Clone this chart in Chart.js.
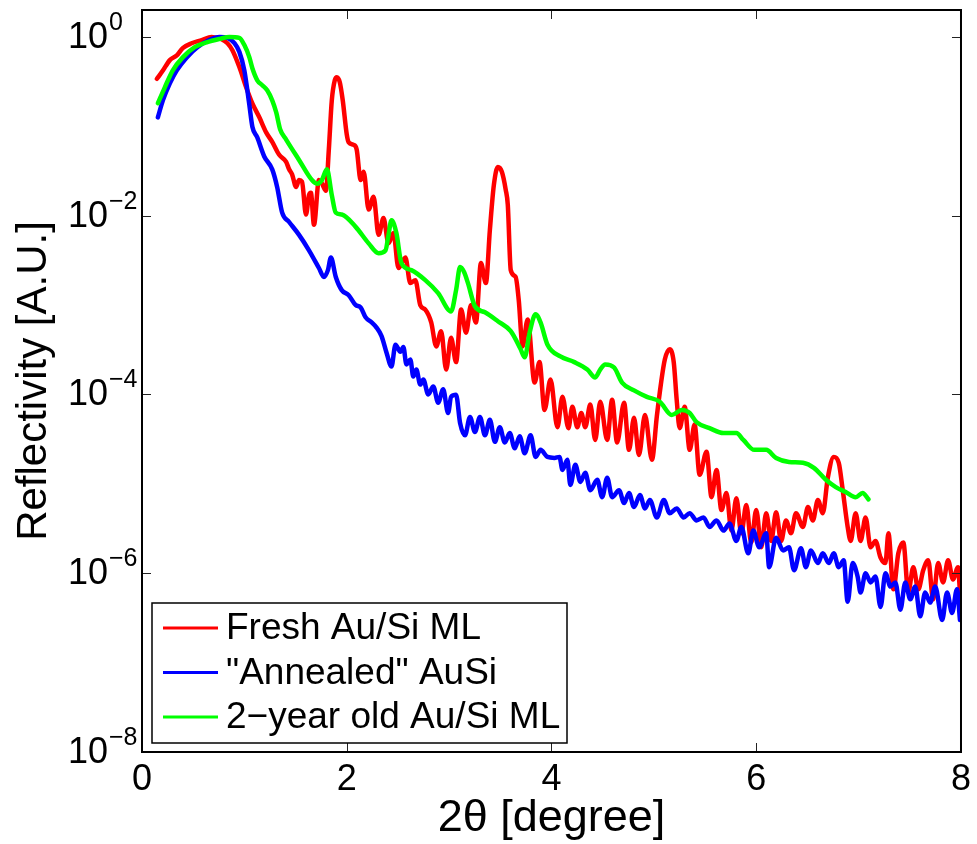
<!DOCTYPE html>
<html>
<head>
<meta charset="utf-8">
<title>Reflectivity</title>
<script src="https://cdn.jsdelivr.net/npm/chart.js@4.4.1/dist/chart.umd.min.js"></script>
<style>
    html, body { margin: 0; padding: 0; background: #ffffff; }
    #wrap { width: 977px; height: 844px; }
</style>
</head>
<body>
<div id="wrap">
    <canvas id="reflChart" width="977" height="844"></canvas>
</div>
<script>

const FONT = "'Liberation Sans', Arial, Helvetica, sans-serif";

/* ==========================
   DATA
========================== */

const seriesLabels = [
    "Fresh Au/Si ML",
    "\"Annealed\" AuSi",
    "2\u2212year old Au/Si ML"
];

const seriesColors = ["#ff0000", "#0000ff", "#00ff00"];

const xTicks = [0, 2, 4, 6, 8];
const yTicks = [1, 1e-2, 1e-4, 1e-6, 1e-8];
const yTickExponents = ["0", "\u22122", "\u22124", "\u22126", "\u22128"];

// 2theta [degree] / reflectivity for the fresh multilayer
const freshX = [
    0.146, 0.204, 0.272, 0.340, 0.398, 0.485, 0.583, 0.680, 0.777, 0.835,
    0.883, 0.951, 1.019, 1.078, 1.146, 1.214, 1.272, 1.340, 1.408, 1.437,
    1.466, 1.505, 1.534, 1.563, 1.602, 1.631, 1.650, 1.680, 1.728, 1.757,
    1.796, 1.825, 1.854, 1.883, 1.903, 1.932, 1.961, 2.000, 2.019, 2.068,
    2.097, 2.136, 2.165, 2.214, 2.262, 2.311, 2.359, 2.408, 2.456, 2.505,
    2.573, 2.621, 2.670, 2.718, 2.767, 2.825, 2.874, 2.922, 2.971, 3.019,
    3.068, 3.117, 3.165, 3.214, 3.262, 3.311, 3.359, 3.398, 3.437, 3.476,
    3.515, 3.553, 3.573, 3.602, 3.650, 3.680, 3.718, 3.767, 3.835, 3.883,
    3.932, 3.990, 4.058, 4.107, 4.165, 4.204, 4.252, 4.291, 4.330, 4.379,
    4.427, 4.476, 4.544, 4.592, 4.641, 4.709, 4.757, 4.806, 4.854, 4.913,
    4.981, 5.029, 5.068, 5.107, 5.155, 5.194, 5.223, 5.252, 5.301, 5.350,
    5.398, 5.447, 5.515, 5.563, 5.612, 5.660, 5.709, 5.757, 5.806, 5.854,
    5.903, 5.951, 6.000, 6.049, 6.097, 6.146, 6.194, 6.243, 6.291, 6.340,
    6.388, 6.456, 6.505, 6.553, 6.602, 6.650, 6.699, 6.757, 6.806, 6.845,
    6.893, 6.922, 6.971, 7.019, 7.068, 7.117, 7.165, 7.214, 7.262, 7.291,
    7.340, 7.388, 7.437, 7.485, 7.534, 7.583, 7.631, 7.680, 7.728, 7.777,
    7.825, 7.874, 7.922, 7.971, 7.990
];

const freshR = [
    0.34, 0.42, 0.55, 0.62, 0.75, 0.85, 0.92, 1.0, 0.94, 0.85,
    0.71, 0.46, 0.27, 0.18, 0.126, 0.085, 0.067, 0.048, 0.040, 0.033,
    0.029, 0.021, 0.025, 0.024, 0.0103, 0.017, 0.018, 0.0079, 0.025, 0.023,
    0.019, 0.055, 0.195, 0.327, 0.354, 0.311, 0.195, 0.081, 0.066, 0.062,
    0.055, 0.025, 0.031, 0.0117, 0.0163, 0.0061, 0.0094, 0.0049, 0.0064, 0.0026,
    0.0034, 0.00176, 0.0019, 0.0010, 8.9e-4, 6.4e-4, 3.45e-4, 5.1e-4, 1.9e-4, 4.3e-4,
    2.3e-4, 8.9e-4, 4.9e-4, 1.0e-3, 6.4e-4, 2.95e-3, 1.76e-3, 6.9e-3, 0.022, 0.035,
    0.031, 0.0195, 0.0133, 2.46e-3, 2.06e-3, 1.14e-3, 3.45e-4, 6.9e-4, 1.36e-4, 2.3e-4,
    6.7e-5, 1.47e-4, 4.3e-5, 9.4e-5, 4.2e-5, 7.3e-5, 4.3e-5, 6.2e-5, 4.3e-5, 7.7e-5,
    3.1e-5, 8.3e-5, 3.1e-5, 8.7e-5, 2.9e-5, 8.1e-5, 2.4e-5, 5.5e-5, 2.1e-5, 5.9e-5,
    1.86e-5, 5.7e-5, 1.29e-4, 2.46e-4, 3.2e-4, 2.3e-4, 8.7e-5, 4.2e-5, 7.3e-5, 2.4e-5,
    4.6e-5, 1.26e-5, 2.28e-5, 7.1e-6, 1.43e-5, 5.1e-6, 7.9e-6, 3.0e-6, 6.9e-6, 2.8e-6,
    5.8e-6, 2.2e-6, 5.1e-6, 1.95e-6, 4.7e-6, 2.3e-6, 4.8e-6, 2.3e-6, 3.9e-6, 2.8e-6,
    4.7e-6, 3.3e-6, 5.5e-6, 3.9e-6, 6.6e-6, 4.7e-6, 1.17e-5, 2.0e-5, 1.72e-5, 8.5e-6,
    3.3e-6, 2.3e-6, 4.7e-6, 2.3e-6, 4.2e-6, 1.95e-6, 2.3e-6, 1.5e-6, 1.3e-6, 2.8e-6,
    6.6e-7, 1.67e-6, 2.2e-6, 6.1e-7, 1.17e-6, 6.6e-7, 1.08e-6, 1.4e-6, 5.1e-7, 1.3e-6,
    7.9e-7, 1.4e-6, 8.5e-7, 1.17e-6, 6.1e-7
];

// annealed AuSi
const annealedX = [
    0.155, 0.204, 0.272, 0.340, 0.437, 0.544, 0.660, 0.757, 0.835, 0.903,
    0.951, 1.000, 1.029, 1.049, 1.078, 1.126, 1.194, 1.272, 1.320, 1.369,
    1.437, 1.534, 1.631, 1.728, 1.777, 1.816, 1.845, 1.893, 1.951, 2.019,
    2.087, 2.136, 2.184, 2.243, 2.291, 2.340, 2.388, 2.437, 2.476, 2.524,
    2.553, 2.583, 2.621, 2.650, 2.680, 2.718, 2.748, 2.796, 2.845, 2.893,
    2.942, 2.990, 3.019, 3.068, 3.107, 3.155, 3.204, 3.252, 3.301, 3.350,
    3.398, 3.447, 3.495, 3.544, 3.592, 3.641, 3.689, 3.738, 3.796, 3.845,
    3.893, 3.961, 4.029, 4.078, 4.107, 4.155, 4.184, 4.233, 4.282, 4.330,
    4.379, 4.447, 4.495, 4.544, 4.592, 4.660, 4.709, 4.757, 4.806, 4.864,
    4.913, 4.961, 5.029, 5.097, 5.155, 5.223, 5.291, 5.350, 5.417, 5.485,
    5.544, 5.612, 5.680, 5.738, 5.806, 5.854, 5.922, 5.971, 6.029, 6.097,
    6.126, 6.194, 6.262, 6.320, 6.369, 6.437, 6.485, 6.534, 6.602, 6.650,
    6.709, 6.757, 6.806, 6.854, 6.893, 6.942, 6.990, 7.019, 7.068, 7.117,
    7.165, 7.214, 7.262, 7.311, 7.359, 7.408, 7.456, 7.505, 7.553, 7.602,
    7.650, 7.699, 7.748, 7.816, 7.864, 7.913, 7.961, 7.990
];

const annealedR = [
    0.126, 0.195, 0.303, 0.423, 0.59, 0.77, 0.93, 1.0, 0.975, 0.85,
    0.68, 0.42, 0.253, 0.172, 0.099, 0.075, 0.046, 0.033, 0.021, 0.0108,
    0.0085, 0.0061, 0.0041, 0.0026, 0.00206, 0.00246, 0.0034, 0.00206, 0.00147, 0.00129,
    0.0010, 9.4e-4, 7.3e-4, 6.4e-4, 5.6e-4, 4.5e-4, 2.95e-4, 2.06e-4, 3.6e-4, 3.0e-4,
    3.4e-4, 2.17e-4, 2.46e-4, 1.59e-4, 1.9e-4, 1.29e-4, 1.47e-4, 1.0e-4, 1.23e-4, 8.1e-5,
    1.14e-4, 6.2e-5, 9.4e-5, 9.9e-5, 4.8e-5, 3.5e-5, 5.6e-5, 3.8e-5, 5.6e-5, 3.5e-5,
    5.2e-5, 2.95e-5, 4.3e-5, 2.9e-5, 3.7e-5, 2.5e-5, 3.4e-5, 2.2e-5, 3.5e-5, 2.0e-5,
    2.4e-5, 2.0e-5, 1.95e-5, 2.0e-5, 1.43e-5, 1.86e-5, 9.7e-6, 1.63e-5, 1.05e-5, 1.33e-5,
    8.5e-6, 1.11e-5, 7.1e-6, 1.17e-5, 7.1e-6, 8.5e-6, 6.1e-6, 7.9e-6, 5.5e-6, 7.5e-6,
    5.3e-6, 6.6e-6, 4.2e-6, 6.6e-6, 4.7e-6, 5.3e-6, 4.2e-6, 4.7e-6, 3.9e-6, 4.2e-6,
    3.3e-6, 3.9e-6, 3.0e-6, 3.6e-6, 2.3e-6, 3.3e-6, 1.67e-6, 3.0e-6, 1.95e-6, 2.8e-6,
    1.17e-6, 2.5e-6, 1.8e-6, 1.95e-6, 1.08e-6, 1.9e-6, 1.17e-6, 1.8e-6, 1.3e-6, 1.67e-6,
    1.3e-6, 1.67e-6, 1.17e-6, 1.4e-6, 4.8e-7, 1.3e-6, 9.2e-7, 6.1e-7, 1.0e-6, 7.9e-7,
    9.2e-7, 4.2e-7, 1.0e-6, 7.1e-7, 7.9e-7, 3.9e-7, 7.9e-7, 5.1e-7, 7.1e-7, 3.3e-7,
    6.1e-7, 4.7e-7, 7.1e-7, 3.0e-7, 6.1e-7, 3.6e-7, 6.6e-7, 3.0e-7
];

// 2-year old multilayer
const oldX = [
    0.155, 0.223, 0.301, 0.398, 0.515, 0.631, 0.757, 0.854, 0.951, 1.000,
    1.049, 1.078, 1.126, 1.175, 1.223, 1.272, 1.311, 1.350, 1.408, 1.534,
    1.660, 1.709, 1.757, 1.806, 1.854, 1.893, 1.951, 2.087, 2.214, 2.311,
    2.379, 2.408, 2.437, 2.485, 2.534, 2.631, 2.767, 2.893, 3.019, 3.068,
    3.107, 3.146, 3.184, 3.252, 3.350, 3.476, 3.602, 3.699, 3.738, 3.786,
    3.845, 3.893, 3.961, 4.087, 4.223, 4.350, 4.427, 4.476, 4.524, 4.612,
    4.689, 4.806, 4.932, 5.058, 5.175, 5.272, 5.350, 5.417, 5.544, 5.680,
    5.806, 5.874, 5.981, 6.097, 6.194, 6.320, 6.456, 6.563, 6.680, 6.777,
    6.874, 6.971, 7.039, 7.097
];

const oldR = [
    0.181, 0.273, 0.423, 0.59, 0.77, 0.87, 0.95, 1.0, 0.975, 0.81,
    0.59, 0.446, 0.327, 0.288, 0.253, 0.195, 0.143, 0.092, 0.071, 0.042,
    0.025, 0.0228, 0.025, 0.033, 0.017, 0.0108, 0.0103, 0.0075, 0.0049, 0.0038,
    0.0041, 0.0061, 0.0089, 0.0064, 0.00295, 0.00246, 0.0019, 0.00136, 8.5e-4, 1.47e-3,
    2.66e-3, 2.34e-3, 1.76e-3, 9.7e-4, 8.3e-4, 6.6e-4, 5.1e-4, 3.2e-4, 2.6e-4, 4.9e-4,
    7.9e-4, 6.4e-4, 3.6e-4, 2.66e-4, 2.3e-4, 1.9e-4, 1.55e-4, 1.9e-4, 2.17e-4, 2.0e-4,
    1.36e-4, 1.11e-4, 9.4e-5, 8.3e-5, 5.9e-5, 6.7e-5, 6.2e-5, 4.9e-5, 4.2e-5, 3.7e-5,
    3.7e-5, 3.1e-5, 2.4e-5, 2.4e-5, 1.95e-5, 1.76e-5, 1.72e-5, 1.51e-5, 1.11e-5, 9.2e-6,
    8.1e-6, 7.1e-6, 7.9e-6, 6.7e-6
];

function toPoints(xs, ys) {
    return xs.map((x, i) => ({ x: x, y: ys[i] }));
}

/* ==========================
   FRAME, TICKS, LEGEND
========================== */

const matlabAxes = {

    id: "matlabAxes",

    afterDraw(chart) {

        const { ctx, chartArea: a, scales } = chart;

        ctx.save();

        // inward tick marks on all four sides
        ctx.strokeStyle = "#222222";
        ctx.lineWidth = 1;
        ctx.beginPath();

        xTicks.forEach((v) => {
            const px = Math.round(scales.x.getPixelForValue(v)) + 0.5;
            ctx.moveTo(px, a.bottom);
            ctx.lineTo(px, a.bottom - 9);
            ctx.moveTo(px, a.top);
            ctx.lineTo(px, a.top + 9);
        });

        yTicks.forEach((v) => {
            const py = Math.round(scales.y.getPixelForValue(v)) + 0.5;
            ctx.moveTo(a.left, py);
            ctx.lineTo(a.left + 9, py);
            ctx.moveTo(a.right, py);
            ctx.lineTo(a.right - 9, py);
        });

        ctx.stroke();

        // axes box
        ctx.strokeStyle = "#000000";
        ctx.lineWidth = 2;
        ctx.strokeRect(a.left, a.top, a.right - a.left, a.bottom - a.top);

        // y tick labels: 10 with a raised exponent
        ctx.fillStyle = "#000000";
        ctx.textBaseline = "middle";

        yTicks.forEach((v, i) => {
            const py = scales.y.getPixelForValue(v);
            ctx.font = "36px " + FONT;
            ctx.textAlign = "right";
            ctx.fillText("10", a.left - 34, py + 1);
            ctx.font = "25px " + FONT;
            ctx.textAlign = "left";
            ctx.fillText(yTickExponents[i], a.left - 33, py - 14);
        });

        // legend box in the lower left corner
        const boxLeft = a.left + 10;
        const boxTop = a.bottom - 149;
        const boxW = 415;
        const boxH = 140;

        ctx.fillStyle = "#ffffff";
        ctx.fillRect(boxLeft, boxTop, boxW, boxH);
        ctx.strokeStyle = "#000000";
        ctx.lineWidth = 1.5;
        ctx.strokeRect(boxLeft, boxTop, boxW, boxH);

        ctx.font = "37px " + FONT;
        ctx.textAlign = "left";
        ctx.textBaseline = "middle";

        chart.data.datasets.forEach((ds, i) => {
            const rowY = boxTop + 25 + i * 44.5;
            ctx.strokeStyle = ds.borderColor;
            ctx.lineWidth = 3;
            ctx.beginPath();
            ctx.moveTo(boxLeft + 11, rowY);
            ctx.lineTo(boxLeft + 66, rowY);
            ctx.stroke();
            ctx.fillStyle = "#000000";
            ctx.fillText(ds.label, boxLeft + 74, rowY + 1);
        });

        ctx.restore();
    }
};

/* ==========================
   CHART
========================== */

const canvas = document.getElementById("reflChart");

new Chart(canvas, {

    type: "line",

    data: {

        datasets: [
            {
                label: seriesLabels[0],
                data: toPoints(freshX, freshR),
                borderColor: seriesColors[0],
                order: 3
            },
            {
                label: seriesLabels[1],
                data: toPoints(annealedX, annealedR),
                borderColor: seriesColors[1],
                order: 2
            },
            {
                label: seriesLabels[2],
                data: toPoints(oldX, oldR),
                borderColor: seriesColors[2],
                order: 1
            }
        ]
    },

    options: {

        responsive: false,
        animation: false,
        devicePixelRatio: 1,

        layout: {
            padding: { left: 0, top: 10, right: 11, bottom: 0 }
        },

        elements: {
            point: { radius: 0 },
            line: {
                borderWidth: 4.5,
                cubicInterpolationMode: "monotone",
                fill: false,
                borderJoinStyle: "round",
                borderCapStyle: "round"
            }
        },

        plugins: {
            legend: { display: false },
            tooltip: { enabled: false }
        },

        scales: {

            x: {
                type: "linear",
                min: 0,
                max: 8,
                grid: { display: false, drawTicks: false },
                border: { display: false },
                ticks: {
                    stepSize: 2,
                    padding: 6,
                    color: "#000000",
                    font: { family: FONT, size: 36 }
                },
                title: {
                    display: true,
                    text: "2\u03b8 [degree]",
                    color: "#000000",
                    font: { family: FONT, size: 45, lineHeight: 1.0 },
                    padding: { top: 0, bottom: 3 }
                },
                afterFit(scale) {
                    scale.height = 92;
                }
            },

            y: {
                type: "logarithmic",
                min: 1e-8,
                max: 2,
                grid: { display: false, drawTicks: false },
                border: { display: false },
                ticks: { display: false },
                title: {
                    display: true,
                    text: "Reflectivity [A.U.]",
                    color: "#000000",
                    font: { family: FONT, size: 42, lineHeight: 1.2 },
                    padding: { top: 9, bottom: 0 }
                },
                afterFit(scale) {
                    scale.width = 142;
                }
            }
        }
    },

    plugins: [matlabAxes]
});

</script>
</body>
</html>
